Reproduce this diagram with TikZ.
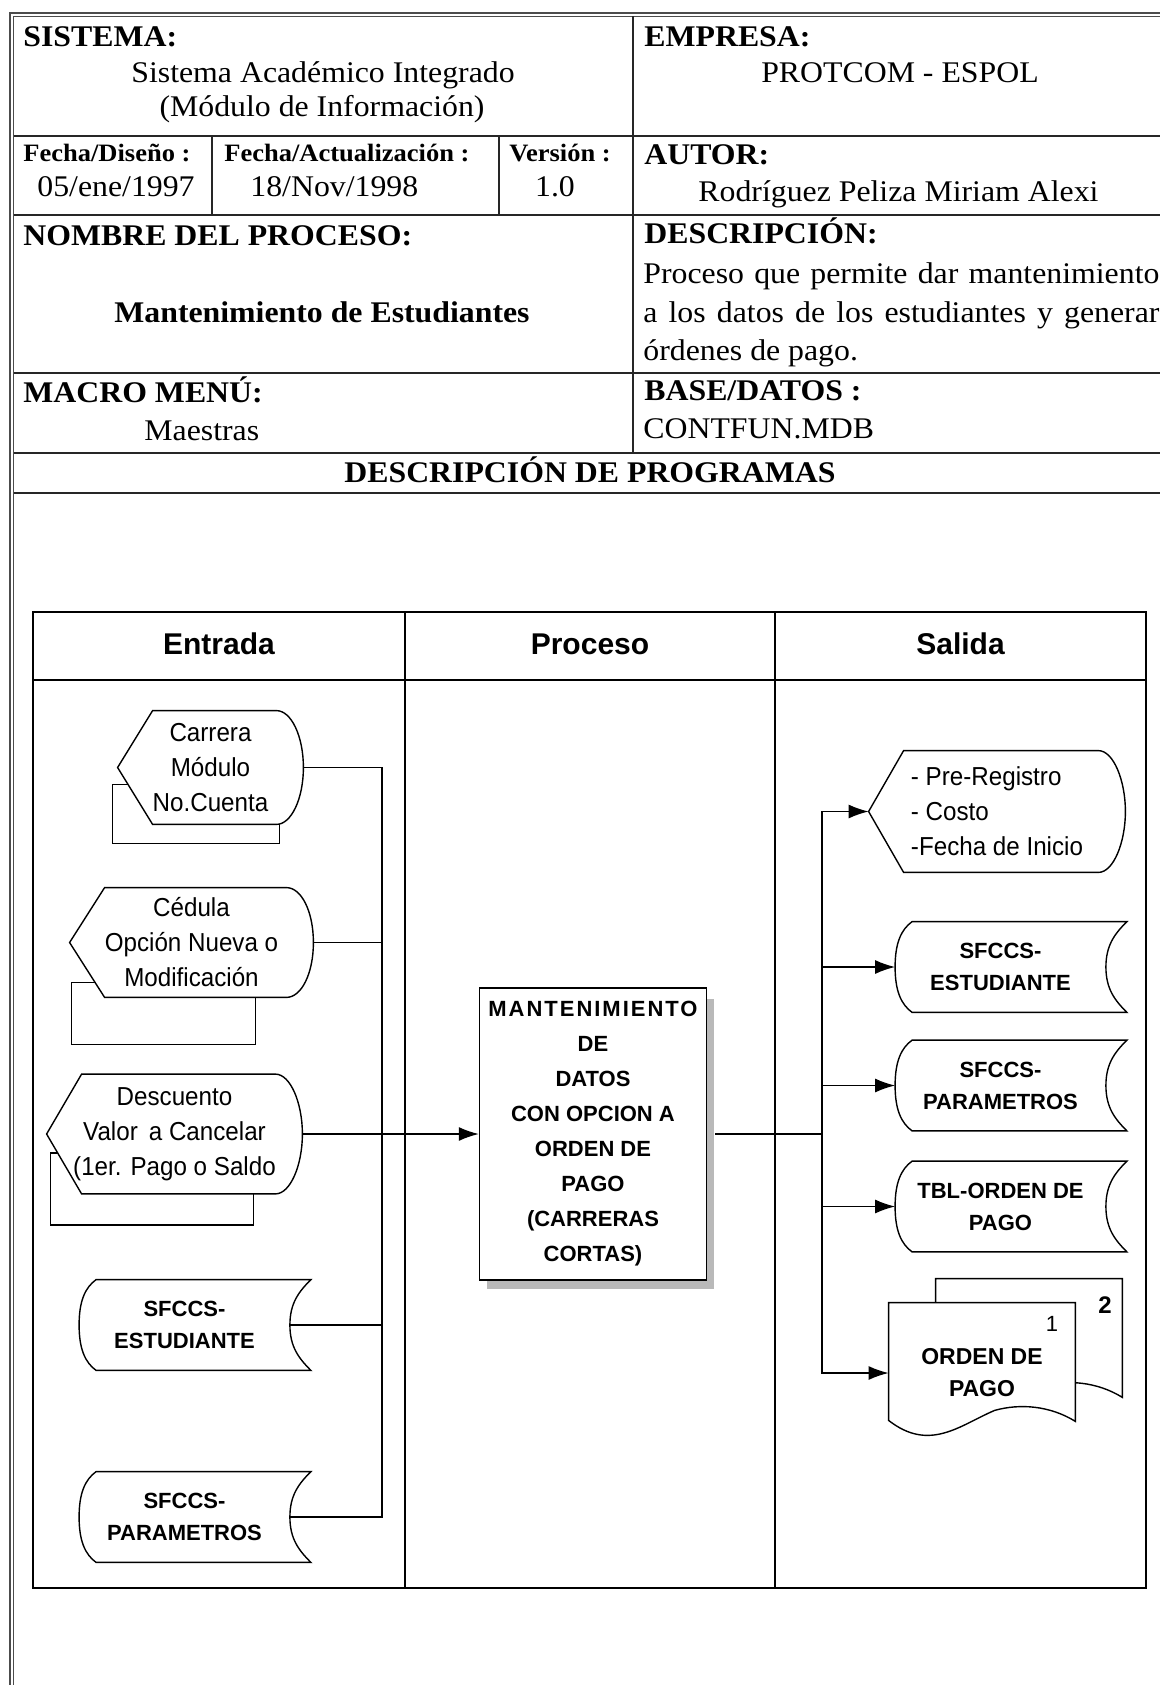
\documentclass[tikz,border=0pt]{standalone}
\usepackage{fontspec}
\setmainfont{Liberation Serif}[FakeStretch=1.06]
\newfontfamily\flowsans{Liberation Sans}
\newfontfamily\narrowsans{Liberation Sans}[FakeStretch=0.93]
\usetikzlibrary{arrows.meta,calc,backgrounds}

% display symbol drawn round a named node
\newcommand{\dispframe}[1]{%
  \draw[shapeline] (#1.west) -- ($(#1.north west)+(35,0)$) -- ($(#1.north east)+(-27,0)$)
    .. controls ($(#1.north east)+(-12,0)$) and ($(#1.east)+(0,-31)$) .. (#1.east)
    .. controls ($(#1.east)+(0,31)$) and ($(#1.south east)+(-12,0)$) .. ($(#1.south east)+(-27,0)$)
    -- ($(#1.south west)+(35,0)$) -- cycle;}
% stored data symbol
\newcommand{\storeframe}[1]{%
  \draw[shapeline] ($(#1.north west)+(17,0)$) -- ($(#1.north east)+(21,0)$)
    .. controls ($(#1.north east)+(9,12)$) and ($(#1.east)+(0,-22)$) .. (#1.east)
    .. controls ($(#1.east)+(0,22)$) and ($(#1.south east)+(9,-12)$) .. ($(#1.south east)+(21,0)$)
    -- ($(#1.south west)+(17,0)$)
    .. controls ($(#1.south west)+(6,-8)$) and ($(#1.west)+(0,24)$) .. (#1.west)
    .. controls ($(#1.west)+(0,-24)$) and ($(#1.north west)+(6,8)$) .. ($(#1.north west)+(17,0)$)
    -- cycle;}
% document symbol, shifted by #2,#3
\newcommand{\docframe}[3]{%
  \draw[shapeline] ($(#1.north west)+(#2,#3)$) -- ($(#1.north east)+(#2,#3)$)
    -- ($(#1.south east)+(#2,#3-22)$)
    .. controls ($(#1.south west)+(#2+161,#3-38)$) and ($(#1.south west)+(#2+131,#3-40)$) .. ($(#1.south west)+(#2+106,#3-33)$)
    .. controls ($(#1.south west)+(#2+71,#3-18)$) and ($(#1.south west)+(#2+41,#3+9)$) .. ($(#1.south west)+(#2,#3-23)$)
    -- cycle;}

\begin{document}
\begin{tikzpicture}[x=0.5pt, y=-0.5pt,
  tabline/.style={line width=1pt, black!85},
  dblline/.style={line width=0.7pt, gray!60!black},
  lane/.style={line width=0.8pt},
  hd/.style={inner sep=0pt, anchor=base west, font=\bfseries\fontsize{15pt}{18pt}\selectfont},
  tx/.style={inner sep=0pt, anchor=base, font=\fontsize{15pt}{18pt}\selectfont},
  txl/.style={tx, anchor=base west},
  sm/.style={inner sep=0pt, anchor=base west, font=\bfseries\fontsize{12.5pt}{15pt}\selectfont},
  lanehd/.style={inner sep=0pt, anchor=base, font=\flowsans\bfseries\fontsize{15pt}{18pt}\selectfont},
  disp/.style={inner sep=0pt, align=center, font=\narrowsans\fontsize{13pt}{17.5pt}\selectfont},
  store/.style={inner sep=0pt, align=center, minimum width=105pt, minimum height=45pt, font=\flowsans\bfseries\fontsize{11pt}{16pt}\selectfont},
  docnode/.style={inner sep=0pt, align=center, minimum width=93pt, minimum height=70pt, font=\flowsans\bfseries\fontsize{11.5pt}{16pt}\selectfont},
  procbox/.style={draw, fill=white, line width=0.7pt, inner sep=0pt, minimum width=113.5pt, minimum height=146pt, align=center, font=\flowsans\bfseries\fontsize{11pt}{17.5pt}\selectfont},
  shapeline/.style={draw, fill=white, line width=0.7pt},
  link/.style={line width=0.7pt},
  arr/.style={link, -{Latex[length=10pt,width=7pt]}}
]
\useasboundingbox (0,0) rectangle (1160,1685);

% header table
\draw[dblline] (10,1685) -- (10,13) -- (1160,13);
\draw[dblline] (13.5,1685) -- (13.5,16.5) -- (1160,16.5);
\foreach \y in {136,215,373,453,493} \draw[tabline] (13.5,\y) -- (1160,\y);
\draw[tabline] (633,16.5) -- (633,453);
\foreach \x in {212,499} \draw[tabline] (\x,136) -- (\x,215);

\node[hd] (sis) at (23,47) {SISTEMA:};
\node[tx] (sisA) at (323,83) {Sistema Académico Integrado};
\node[tx] (sisB) at (322,117) {(Módulo de Información)};
\node[hd] (emp) at (644,47) {EMPRESA:};
\node[tx] (empA) at (900,83) {PROTCOM - ESPOL};
\node[sm] (fdis) at (23,162) {Fecha/Diseño :};
\node[txl] (fdisV) at (37,197) {05/ene/1997};
\node[sm] (fact) at (224,162) {Fecha/Actualización :};
\node[txl] (factV) at (250,197) {18/Nov/1998};
\node[sm] (ver) at (509,162) {Versión :};
\node[tx] (verV) at (555,197) {1.0};
\node[hd] (aut) at (644,165) {AUTOR:};
\node[txl] (autV) at (698,202) {Rodríguez Peliza Miriam Alexi};
\node[hd] (nom) at (23,245) {NOMBRE DEL PROCESO:};
\node[hd, anchor=base] (nomV) at (322,322) {Mantenimiento de Estudiantes};
\node[hd] (des) at (644,243) {DESCRIPCIÓN:};
\node[txl] (desA) at (643,283) {\makebox[258pt][s]{Proceso que permite dar mantenimiento}};
\node[txl] (desB) at (643,322) {\makebox[258pt][s]{a los datos de los estudiantes y generar}};
\node[txl] (desC) at (643,360) {órdenes de pago.};
\node[hd] (mac) at (23,402) {MACRO MENÚ:};
\node[txl] (macV) at (144,440) {Maestras};
\node[hd] (bas) at (644,400) {BASE/DATOS :};
\node[txl] (basV) at (643,438) {CONTFUN.MDB};
\node[hd, anchor=base] (dprog) at (590,482) {DESCRIPCIÓN DE PROGRAMAS};

% lanes
\draw[lane] (33,612) rectangle (1146,1588);
\draw[lane] (33,680) -- (1146,680);
\foreach \x in {405,775} \draw[lane] (\x,612) -- (\x,1588);
\node[lanehd] (hEnt) at (219,654) {Entrada};
\node[lanehd] (hPro) at (590,654) {Proceso};
\node[lanehd] (hSal) at (960.5,654) {Salida};

% entrada
\node[disp, minimum width=92.5pt, minimum height=56.5pt] (in1) at (210.5,767.5) {Carrera\\Módulo\\No.Cuenta};
\node[disp, minimum width=121.5pt, minimum height=54.5pt] (in2) at (191.5,942.5) {Cédula\\Opción Nueva o\\Modificación};
\node[disp, minimum width=127.5pt, minimum height=59.5pt] (in3) at (174.5,1134) {Descuento\\Valor\, a Cancelar\\(1er. Pago o Saldo};
\node[store] (in4) at (184.5,1325) {SFCCS-\\ESTUDIANTE};
\node[store] (in5) at (184.5,1517) {SFCCS-\\PARAMETROS};

% proceso
\node[procbox] (proc) at (593,1134) {{\addfontfeature{LetterSpace=9}MANTENIMIENTO}\\DE\\DATOS\\CON OPCION A\\ORDEN DE\\PAGO\\(CARRERAS\\CORTAS)};

% salida
\node[disp, align=left, minimum width=128pt, minimum height=60.5pt] (out1) at (997,811.5) {- Pre-Registro\\- Costo\\-Fecha de Inicio};
\foreach \n/\y/\t in {out2/967/{SFCCS-\\ESTUDIANTE}, out3/1085.5/{SFCCS-\\PARAMETROS}, out4/1206.5/{TBL-ORDEN DE\\PAGO}}
  \node[store] (\n) at (1000.5,\y) {\t};
\node[docnode] (out5) at (982,1373) {ORDEN DE\\PAGO};
\node[inner sep=0pt, anchor=base, font=\flowsans\fontsize{11pt}{13pt}\selectfont] (pg1) at (1052,1331) {1};
\node[inner sep=0pt, anchor=base, font=\flowsans\bfseries\fontsize{12pt}{14pt}\selectfont] (pg2) at (1105,1313) {2};

% connectors
\coordinate (ibus) at (382,1134);
\coordinate (obus) at (822,1134);
\foreach \n in {in1,in2,in4,in5} \draw[link] (\n.east) -| (ibus);
\draw[arr] (in3.east) -- (proc.west);
\draw[link, shorten <=4pt] (proc.east) -- (obus);
\foreach \n in {out1,out2,out3,out4,out5} \draw[arr] (obus) |- (\n.west);

\begin{pgfonlayer}{background}
  \draw[link] ($(in1.south west)+(-5,19)$) rectangle ($(in1.south east)+(-24,-40)$);
  \draw[link] ($(in2.south west)+(2,47)$) rectangle ($(in2.south east)+(-58,-15)$);
  \draw[link] ($(in3.south west)+(4,31)$) rectangle ($(in3.south east)+(-49,-41)$);
  \foreach \n in {in1,in2,in3,out1} {\dispframe{\n}}
  \foreach \n in {in4,in5,out2,out3,out4} {\storeframe{\n}}
  \docframe{out5}{47}{-24}
  \docframe{out5}{0}{0}
  \fill[gray!55] ($(proc.north east)+(0,12)$) rectangle ($(proc.south east)+(7,8)$);
  \fill[gray!55] ($(proc.south west)+(8,0)$) rectangle ($(proc.south east)+(7,8)$);
\end{pgfonlayer}
\end{tikzpicture}
\end{document}
